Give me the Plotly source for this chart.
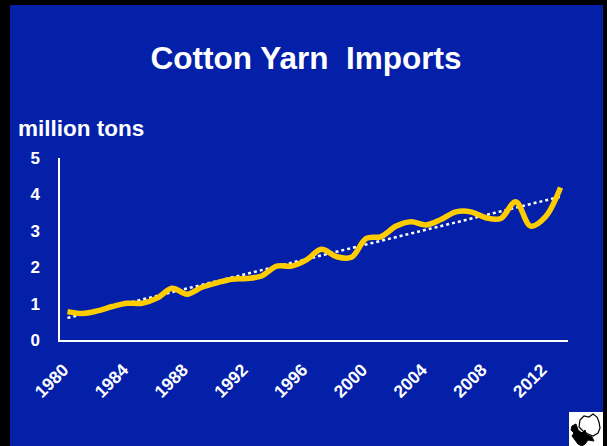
import numpy as np
import plotly.graph_objects as go

years = list(range(1980, 2014))
imports = [0.78, 0.73, 0.80, 0.92, 1.01, 1.01, 1.15, 1.42, 1.26, 1.45,
           1.57, 1.67, 1.69, 1.76, 2.03, 2.03, 2.20, 2.49, 2.29, 2.27,
           2.79, 2.84, 3.13, 3.25, 3.16, 3.31, 3.52, 3.52, 3.36, 3.34,
           3.80, 3.13, 3.39, 4.19]
tick_years = list(range(1980, 2013, 4))
y_ticks = [0, 1, 2, 3, 4, 5]

coef = np.polyfit(years, imports, 1)
trend = [float(np.polyval(coef, y)) for y in years]

W, H = 607, 446
L, R, T, B = 60, 39, 158, 106
PW, PH = W - L - R, H - T - B

def px(x):
    return (x - L) / PW

def py(y):
    return (H - B - y) / PH

def path(points, close=True):
    s = "M " + " L ".join(f"{px(a):.4f},{py(b):.4f}" for a, b in points)
    return s + (" Z" if close else "")

BLUE = "#0420A8"
FONT = "Liberation Sans, Arial, sans-serif"

fig = go.Figure()
fig.add_trace(go.Scatter(x=years, y=trend, mode="lines",
                         line=dict(color="white", width=2.5, dash="dot"),
                         hoverinfo="skip", showlegend=False))
fig.add_trace(go.Scatter(x=years, y=imports, mode="lines",
                         line=dict(color="#FFCC00", width=5.5, shape="spline", smoothing=1.0),
                         showlegend=False))

shapes = [
    # black frame strips
    dict(type="rect", xref="paper", yref="paper", x0=px(0), x1=px(10), y0=py(446), y1=py(0),
         fillcolor="black", line_width=0, layer="above"),
    dict(type="rect", xref="paper", yref="paper", x0=px(0), x1=px(607), y0=py(5), y1=py(0),
         fillcolor="black", line_width=0, layer="above"),
    dict(type="rect", xref="paper", yref="paper", x0=px(603), x1=px(607), y0=py(446), y1=py(0),
         fillcolor="black", line_width=0, layer="above"),
    # logo box
    dict(type="rect", xref="paper", yref="paper", x0=px(569), x1=px(603), y0=py(446), y1=py(412),
         fillcolor="white", line_width=0, layer="above"),
    # cotton boll outline
    dict(type="path", xref="paper", yref="paper", layer="above",
         path=path([(580, 420), (584, 416), (589, 417), (593, 414), (597, 417), (599, 422),
                    (600, 428), (598, 433), (593, 436), (588, 434), (583, 431), (579, 427)]),
         fillcolor="white", line=dict(color="black", width=1.2)),
    # leaves / bracts
    dict(type="path", xref="paper", yref="paper", layer="above",
         path=path([(572, 426), (576, 424), (578, 430), (582, 433), (585, 430), (586, 434),
                    (592, 437), (594, 441), (588, 440), (585, 444), (582, 446), (578, 444),
                    (575, 440), (572, 436), (574, 433), (571, 430)]),
         fillcolor="black", line=dict(color="black", width=1)),
]

annotations = [
    dict(text="<b>million tons</b>", xref="paper", yref="paper", x=px(16), y=py(129),
         xanchor="left", yanchor="middle", showarrow=False,
         font=dict(family=FONT, size=22.5, color="white")),
]

fig.update_layout(
    width=W, height=H,
    margin=dict(l=L, r=R, t=T, b=B),
    paper_bgcolor=BLUE, plot_bgcolor="rgba(0,0,0,0)",
    title=dict(text="<b>Cotton Yarn \u00a0Imports</b>", x=306 / W, xref="container",
               y=1 - 58 / H, yref="container", xanchor="center", yanchor="middle",
               font=dict(family=FONT, size=31.5, color="white")),
    font=dict(family=FONT, color="white"),
    xaxis=dict(range=[1979.5, 2013.5], tickvals=tick_years,
               ticktext=[f"<b>{y}</b>" for y in tick_years],
               tickangle=-45, showgrid=False, zeroline=False,
               showline=True, linecolor="white", linewidth=1.5, ticks="",
               ticklabelstandoff=11, ticklabelshift=-4,
               tickfont=dict(family=FONT, size=17.5, color="white")),
    yaxis=dict(range=[0, 5], tickvals=y_ticks,
               ticktext=[f"<b>{v}</b>" for v in y_ticks],
               showgrid=False, zeroline=False,
               showline=True, linecolor="white", linewidth=1.5, ticks="",
               ticklabelstandoff=15,
               tickfont=dict(family=FONT, size=17, color="white")),
    shapes=shapes, annotations=annotations,
)

fig.write_html("out.html", config={"displayModeBar": False},
               post_script="document.body.style.margin='0';document.body.style.overflow='hidden';")
